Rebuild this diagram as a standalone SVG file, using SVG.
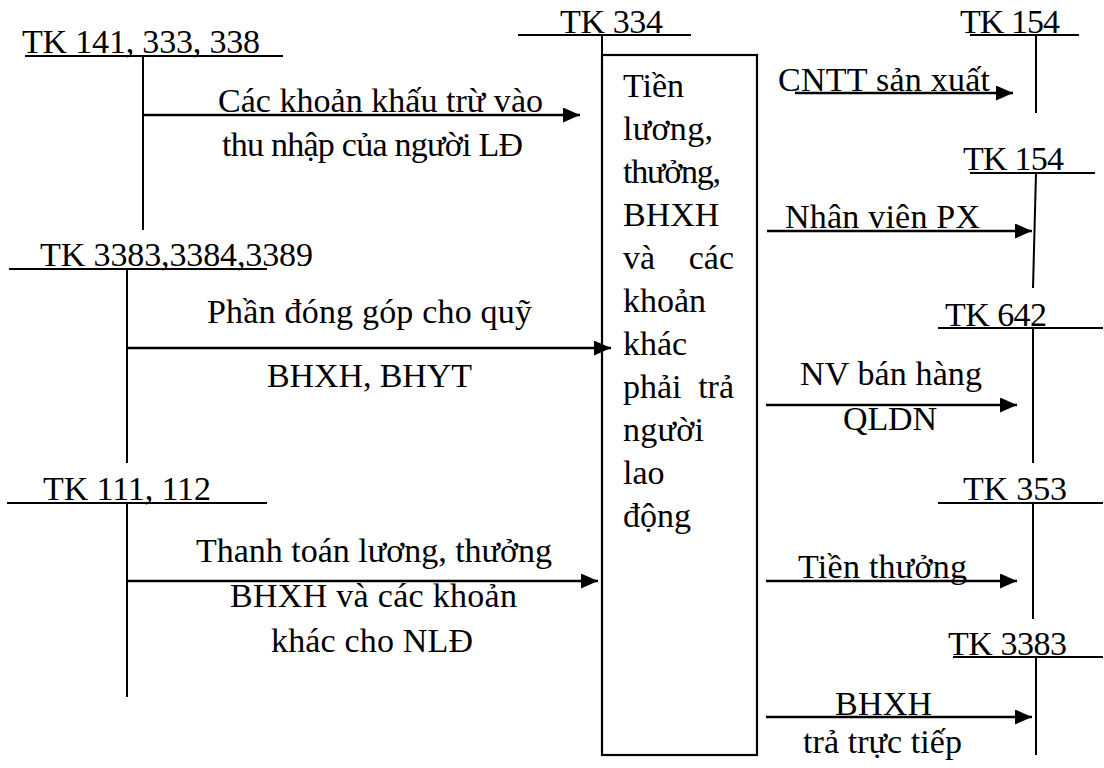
<svg xmlns="http://www.w3.org/2000/svg" width="1104" height="768" viewBox="0 0 1104 768">
<style>
text{font-family:"Liberation Serif","Times New Roman",serif;font-size:34px;fill:#000}
.ln{stroke:#000;stroke-width:2;fill:none}
.ar{stroke:#000;stroke-width:2.4;fill:none;marker-end:url(#ah)}
.box{stroke:#000;stroke-width:2.2;fill:#fff}
</style>
<defs>
<marker id="ah" markerUnits="userSpaceOnUse" markerWidth="18" markerHeight="16" refX="17" refY="7.5" orient="auto">
<path d="M0,0 L17,7.5 L0,15 Z" fill="#000"/>
</marker>
</defs>
<rect width="1104" height="768" fill="#fff"/>

<g id="tk141">
<text x="22" y="53" textLength="238" lengthAdjust="spacing">TK 141, 333, 338</text>
<line class="ln" x1="25" y1="56" x2="283" y2="56"/>
<line class="ln" x1="143" y1="56" x2="143" y2="230"/>
</g>
<g id="tk3383-left">
<text x="40" y="266" textLength="273" lengthAdjust="spacing">TK 3383,3384,3389</text>
<line class="ln" x1="9" y1="269" x2="267" y2="269"/>
<line class="ln" x1="127" y1="269" x2="127" y2="463"/>
</g>
<g id="tk111">
<text x="43" y="500" textLength="168" lengthAdjust="spacing">TK 111, 112</text>
<line class="ln" x1="7" y1="503" x2="267" y2="503"/>
<line class="ln" x1="127" y1="503" x2="127" y2="697"/>
</g>
<g id="tk334">
<text x="560" y="33" textLength="103" lengthAdjust="spacing">TK 334</text>
<line class="ln" x1="518" y1="35" x2="691" y2="35"/>
<line class="ln" x1="602" y1="35" x2="602" y2="55"/>
<rect class="box" x="602" y="55" width="155" height="700"/>
<text x="623" y="97">Tiền</text>
<text x="623" y="140" textLength="90" lengthAdjust="spacing">lương,</text>
<text x="623" y="183" textLength="98" lengthAdjust="spacing">thưởng,</text>
<text x="623" y="226">BHXH</text>
<text x="623" y="269">và</text><text x="734" y="269" text-anchor="end">các</text>
<text x="623" y="312">khoản</text>
<text x="623" y="355">khác</text>
<text x="623" y="398">phải</text><text x="734" y="398" text-anchor="end">trả</text>
<text x="623" y="441" textLength="81" lengthAdjust="spacing">người</text>
<text x="623" y="484">lao</text>
<text x="623" y="527">động</text>
</g>
<g id="tk154a">
<text x="960" y="33" textLength="100" lengthAdjust="spacing">TK 154</text>
<line class="ln" x1="970" y1="35" x2="1079" y2="35"/>
<line class="ln" x1="1036" y1="35" x2="1036" y2="113"/>
</g>
<g id="tk154b">
<text x="963" y="170" textLength="101" lengthAdjust="spacing">TK 154</text>
<line class="ln" x1="970" y1="173" x2="1095" y2="173"/>
<line class="ln" x1="1036" y1="173" x2="1033" y2="288"/>
</g>
<g id="tk642">
<text x="945" y="326" textLength="102" lengthAdjust="spacing">TK 642</text>
<line class="ln" x1="938" y1="328" x2="1103" y2="328"/>
<line class="ln" x1="1033" y1="328" x2="1033" y2="463"/>
</g>
<g id="tk353">
<text x="963" y="500" textLength="104" lengthAdjust="spacing">TK 353</text>
<line class="ln" x1="938" y1="503" x2="1103" y2="503"/>
<line class="ln" x1="1033" y1="503" x2="1033" y2="619"/>
</g>
<g id="tk3383-right">
<text x="948" y="655" textLength="119" lengthAdjust="spacing">TK 3383</text>
<line class="ln" x1="953" y1="657" x2="1103" y2="657"/>
<line class="ln" x1="1036" y1="657" x2="1036" y2="755"/>
</g>

<g id="connectors">
<line class="ar" x1="143" y1="115" x2="580" y2="115"/>
<text x="218" y="112" textLength="325" lengthAdjust="spacing">Các khoản khấu trừ vào</text>
<text x="222" y="156" textLength="301" lengthAdjust="spacing">thu nhập của người LĐ</text>

<line class="ar" x1="127" y1="348" x2="611" y2="348"/>
<text x="207" y="323" textLength="325" lengthAdjust="spacing">Phần đóng góp cho quỹ</text>
<text x="267" y="387" textLength="205" lengthAdjust="spacing">BHXH, BHYT</text>

<line class="ar" x1="127" y1="581" x2="598" y2="581"/>
<text x="196" y="562" textLength="356" lengthAdjust="spacing">Thanh toán lương, thưởng</text>
<text x="230" y="607" textLength="287" lengthAdjust="spacing">BHXH và các khoản</text>
<text x="271" y="652" textLength="202" lengthAdjust="spacing">khác cho NLĐ</text>

<line class="ar" x1="795" y1="93" x2="1013" y2="93"/>
<text x="778" y="91" textLength="212" lengthAdjust="spacing">CNTT sản xuất</text>

<line class="ar" x1="767" y1="231" x2="1032" y2="231"/>
<text x="785" y="228" textLength="195" lengthAdjust="spacing">Nhân viên PX</text>

<line class="ar" x1="766" y1="405" x2="1017" y2="405"/>
<text x="800" y="385" textLength="182" lengthAdjust="spacing">NV bán hàng</text>
<text x="843" y="430" textLength="94" lengthAdjust="spacing">QLDN</text>

<line class="ar" x1="766" y1="581" x2="1017" y2="581"/>
<text x="798" y="578" textLength="169" lengthAdjust="spacing">Tiền thưởng</text>

<line class="ar" x1="766" y1="717" x2="1032" y2="717"/>
<text x="835" y="715" textLength="97" lengthAdjust="spacing">BHXH</text>
<text x="803" y="753" textLength="159" lengthAdjust="spacing">trả trực tiếp</text>
</g>
</svg>
